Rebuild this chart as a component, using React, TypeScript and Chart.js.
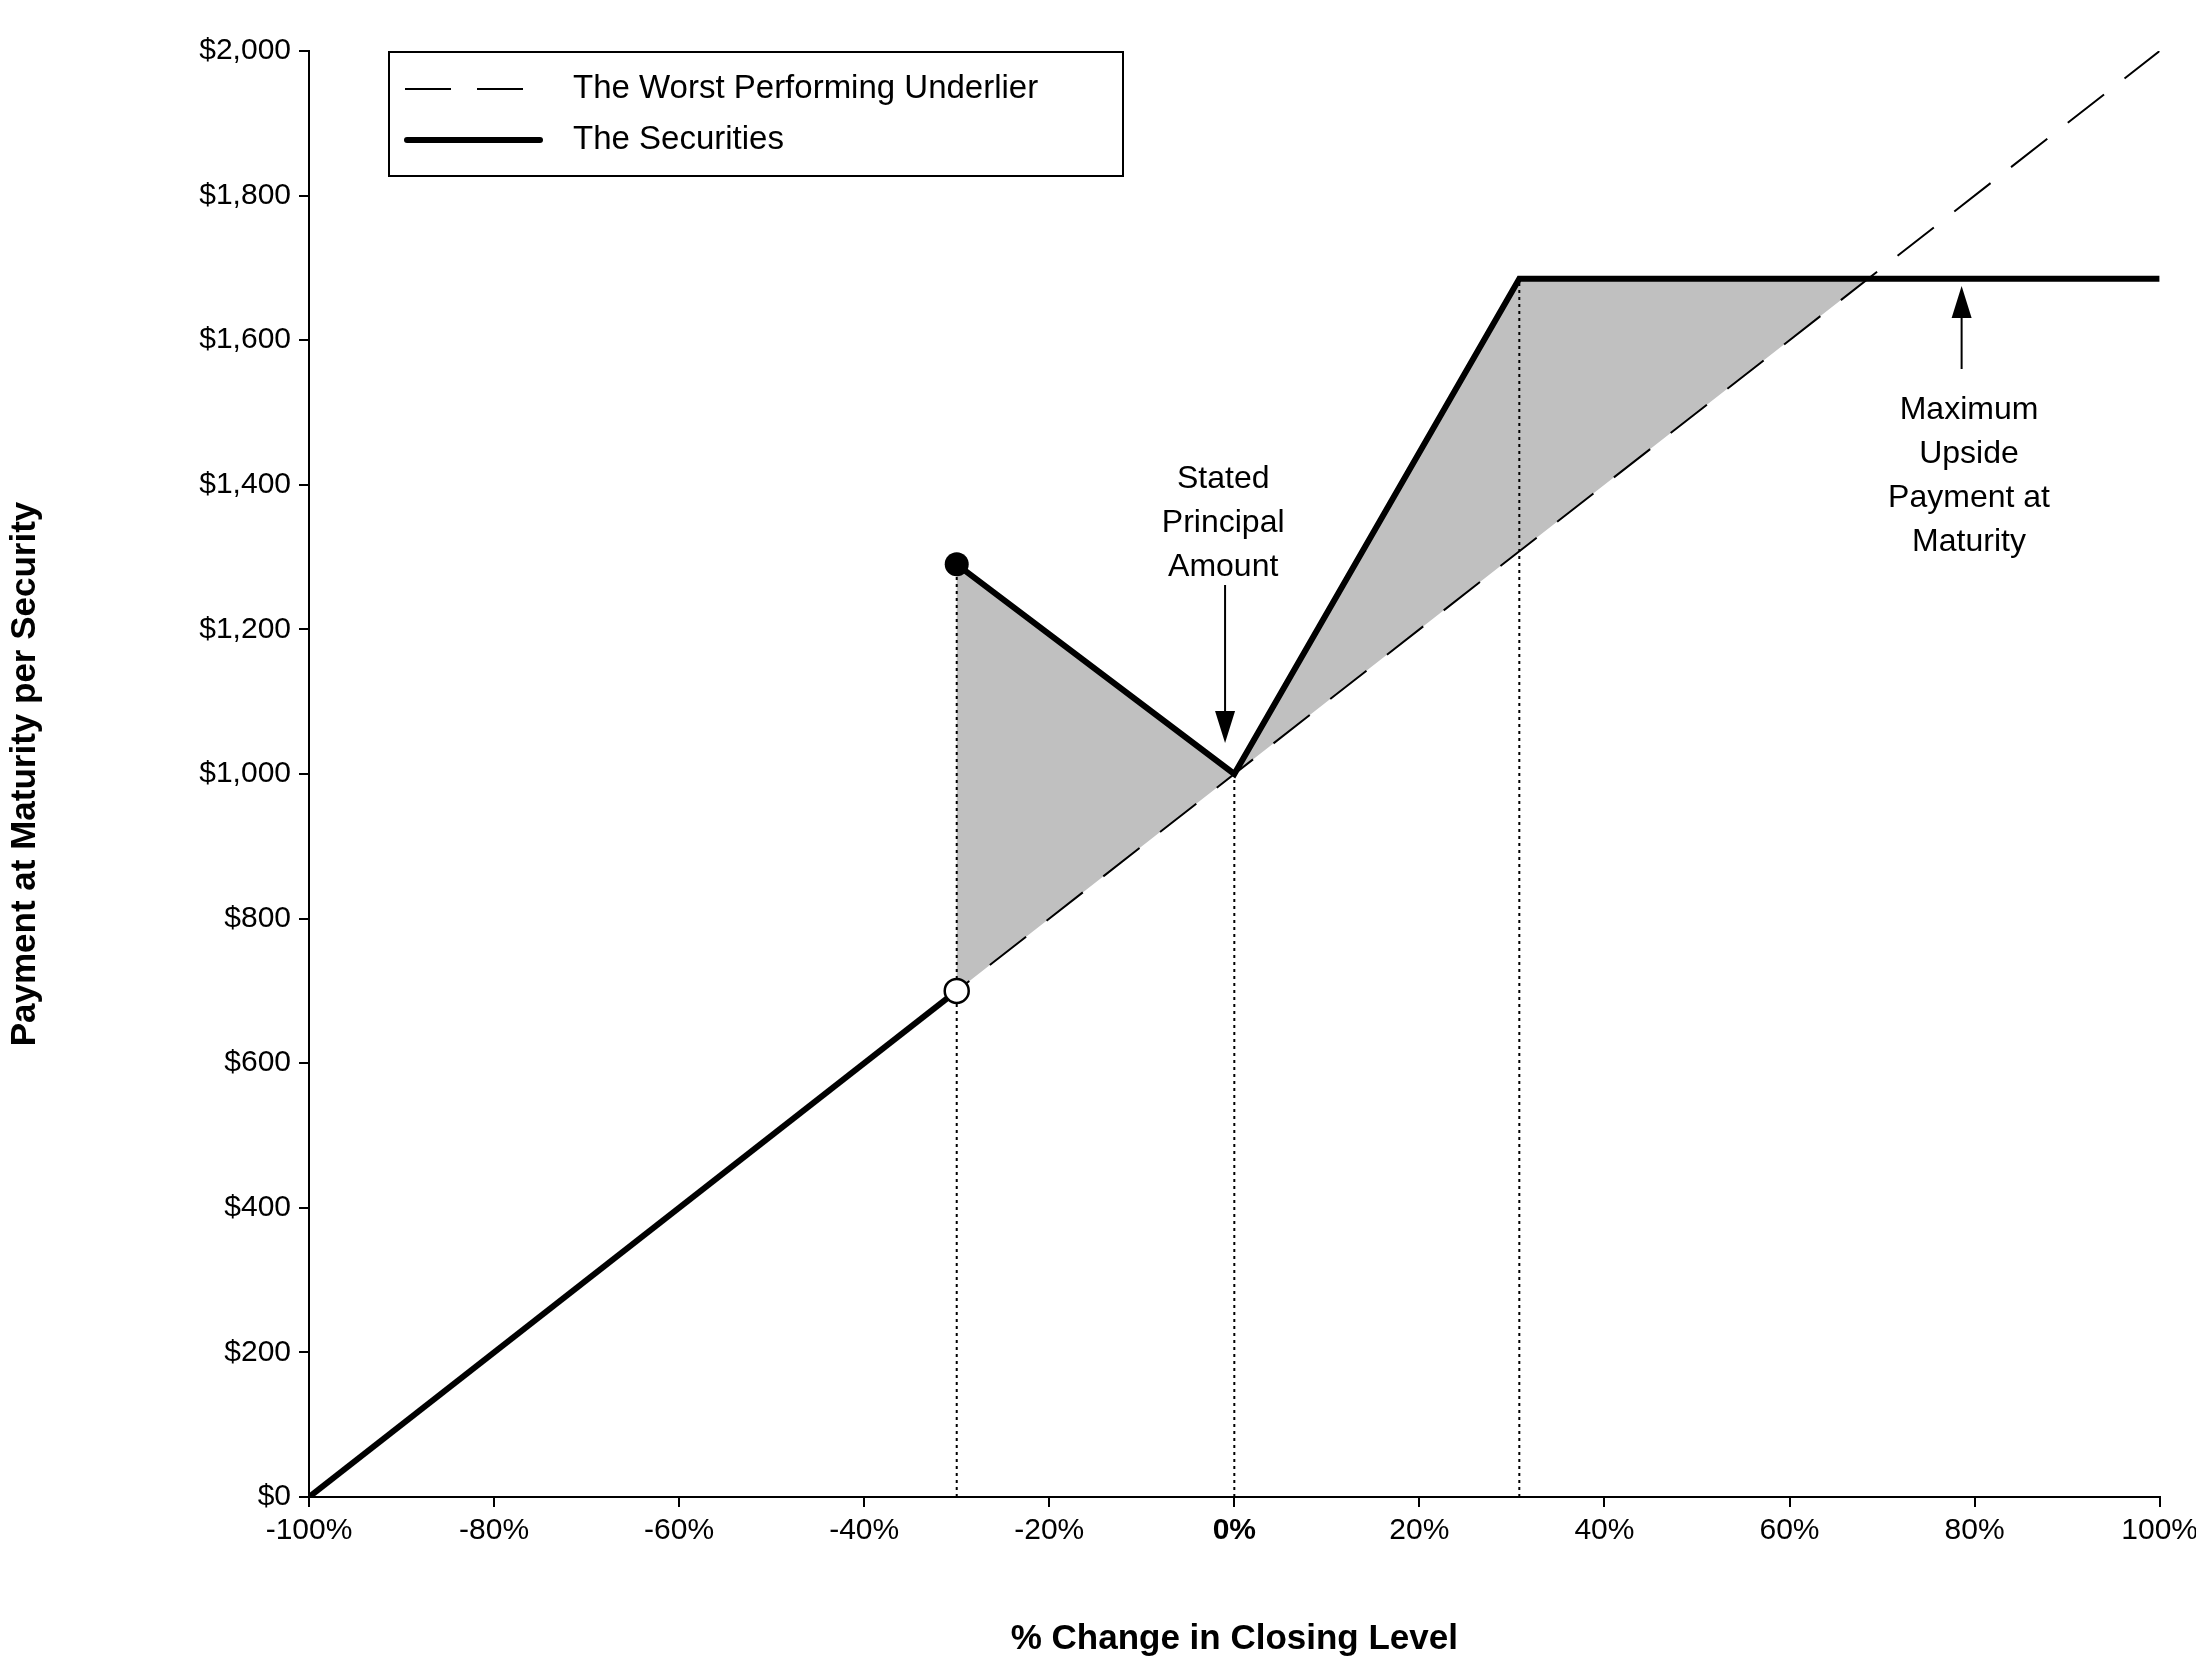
import { useEffect, useRef } from "react";
import Chart from "chart.js/auto";

// % change vs payment
const underlierX = [-100, 100];
const underlierY = [0, 2000];
const secLowX = [-100, -30];
const secLowY = [0, 700];
const secHighX = [-30, 0, 30.8, 100];
const secHighY = [1290, 1000, 1685, 1685];
const shadeTopX = [-30, 0, 30.8, 68.5];
const shadeTopY = [1290, 1000, 1685, 1685];
const dottedX = [-30, 0, 30.8];
const dottedY = [1290, 1000, 1685];

const FONT = "'Liberation Sans', Arial, sans-serif";

const overlay = {
  id: "overlay",
  beforeDatasetsDraw(chart: any) {
    const { ctx, scales } = chart;
    const xs = scales.x, ys = scales.y;
    ctx.save();
    // shaded region between securities and underlier
    ctx.beginPath();
    shadeTopX.forEach((x, i) => {
      const px = xs.getPixelForValue(x), py = ys.getPixelForValue(shadeTopY[i]);
      i ? ctx.lineTo(px, py) : ctx.moveTo(px, py);
    });
    for (let i = shadeTopX.length - 1; i >= 0; i--) {
      const x = shadeTopX[i];
      const y = 1000 + x * 10;
      ctx.lineTo(xs.getPixelForValue(x), ys.getPixelForValue(y));
    }
    ctx.closePath();
    ctx.fillStyle = "#c0c0c0";
    ctx.fill();
    // dotted verticals
    ctx.setLineDash([3, 4]);
    ctx.lineWidth = 2;
    ctx.strokeStyle = "#000";
    dottedX.forEach((x, i) => {
      const px = xs.getPixelForValue(x);
      ctx.beginPath();
      ctx.moveTo(px, ys.getPixelForValue(0));
      ctx.lineTo(px, ys.getPixelForValue(dottedY[i]));
      ctx.stroke();
    });
    ctx.restore();
  },
  afterDatasetsDraw(chart: any) {
    const { ctx, scales } = chart;
    const xs = scales.x, ys = scales.y;
    ctx.save();
    // dots
    ctx.lineWidth = 2.5;
    ctx.strokeStyle = "#000";
    ctx.fillStyle = "#000";
    ctx.beginPath();
    ctx.arc(xs.getPixelForValue(-30), ys.getPixelForValue(1290), 12, 0, Math.PI * 2);
    ctx.fill();
    ctx.fillStyle = "#fff";
    ctx.beginPath();
    ctx.arc(xs.getPixelForValue(-30), ys.getPixelForValue(700), 12, 0, Math.PI * 2);
    ctx.fill();
    ctx.stroke();

    // annotations
    ctx.fillStyle = "#000";
    ctx.font = `32px ${FONT}`;
    ctx.textAlign = "center";
    ctx.textBaseline = "middle";
    const sx = xs.getPixelForValue(-1.2);
    ["Stated", "Principal", "Amount"].forEach((t, i) => ctx.fillText(t, sx, 479 + i * 44));
    const mx = xs.getPixelForValue(79.4);
    ["Maximum", "Upside", "Payment at", "Maturity"].forEach((t, i) => ctx.fillText(t, mx, 410 + i * 44));

    const arrow = (x: number, y1: number, y2: number) => {
      const dir = y2 > y1 ? 1 : -1;
      ctx.lineWidth = 2;
      ctx.beginPath();
      ctx.moveTo(x, y1);
      ctx.lineTo(x, y2 - dir * 20);
      ctx.stroke();
      ctx.beginPath();
      ctx.moveTo(x, y2);
      ctx.lineTo(x - 10, y2 - dir * 32);
      ctx.lineTo(x + 10, y2 - dir * 32);
      ctx.closePath();
      ctx.fill();
    };
    arrow(xs.getPixelForValue(-1), 585, 743);
    arrow(xs.getPixelForValue(78.6), 369, 286);

    // legend
    ctx.lineWidth = 2;
    ctx.strokeRect(389, 52, 734, 124);
    ctx.setLineDash([46, 26]);
    ctx.beginPath();
    ctx.moveTo(405, 89);
    ctx.lineTo(545, 89);
    ctx.stroke();
    ctx.setLineDash([]);
    ctx.lineWidth = 6;
    ctx.lineCap = "round";
    ctx.beginPath();
    ctx.moveTo(407, 140);
    ctx.lineTo(540, 140);
    ctx.stroke();
    ctx.textAlign = "left";
    ctx.font = `33px ${FONT}`;
    ctx.fillText("The Worst Performing Underlier", 573, 89);
    ctx.fillText("The Securities", 573, 140);
    ctx.restore();
  },
};

const App = () => {
  const canvasRef = useRef<HTMLCanvasElement>(null);

  useEffect(() => {
    if (!canvasRef.current) return;
    const pts = (xs: number[], ys: number[]) => xs.map((x, i) => ({ x, y: ys[i] }));
    const chart = new Chart(canvasRef.current, {
      type: "scatter",
      data: {
        datasets: [
          {
            data: pts(underlierX, underlierY),
            showLine: true,
            borderColor: "#000",
            borderWidth: 2,
            borderDash: [46, 26],
            pointRadius: 0,
          },
          {
            data: pts(secLowX, secLowY),
            showLine: true,
            borderColor: "#000",
            borderWidth: 6,
            pointRadius: 0,
          },
          {
            data: pts(secHighX, secHighY),
            showLine: true,
            borderColor: "#000",
            borderWidth: 6,
            pointRadius: 0,
          },
        ],
      },
      options: {
        responsive: false,
        animation: false,
        devicePixelRatio: 1,
        layout: { padding: { top: 51, right: 36, left: 0, bottom: 0 } },
        plugins: { legend: { display: false }, tooltip: { enabled: false } },
        scales: {
          x: {
            type: "linear",
            min: -100,
            max: 100,
            afterFit: (s: any) => { s.height = 167; },
            border: { color: "#000", width: 2 },
            grid: { drawOnChartArea: false, color: "#000", tickLength: 10, lineWidth: 2 },
            ticks: {
              stepSize: 20,
              color: "#000",
              padding: 6,
              font: (c: any) => ({ family: FONT, size: 30, weight: c.tick && c.tick.value === 0 ? "bold" : "normal" }),
              callback: (v: any) => `${v}%`,
            },
            title: {
              display: true,
              text: "% Change in Closing Level",
              color: "#000",
              font: { family: FONT, size: 35, weight: "bold" },
              padding: { top: 8 },
            },
          },
          y: {
            min: 0,
            max: 2000,
            afterFit: (s: any) => { s.width = 309; },
            border: { color: "#000", width: 2 },
            grid: { drawOnChartArea: false, color: "#000", tickLength: 10, lineWidth: 2 },
            ticks: {
              stepSize: 200,
              color: "#000",
              padding: 8,
              font: { family: FONT, size: 30 },
              callback: (v: any) => `$${Number(v).toLocaleString("en-US")}`,
            },
            title: {
              display: true,
              text: "Payment at Maturity per Security",
              color: "#000",
              font: { family: FONT, size: 35, weight: "bold" },
            },
          },
        },
      },
      plugins: [overlay],
    });
    return () => chart.destroy();
  }, []);

  return (
    <div style={{ margin: -8, background: "#fff", width: 2204, height: 1664 }}>
      <canvas ref={canvasRef} width={2204} height={1664}></canvas>
    </div>
  );
};

export default App;
